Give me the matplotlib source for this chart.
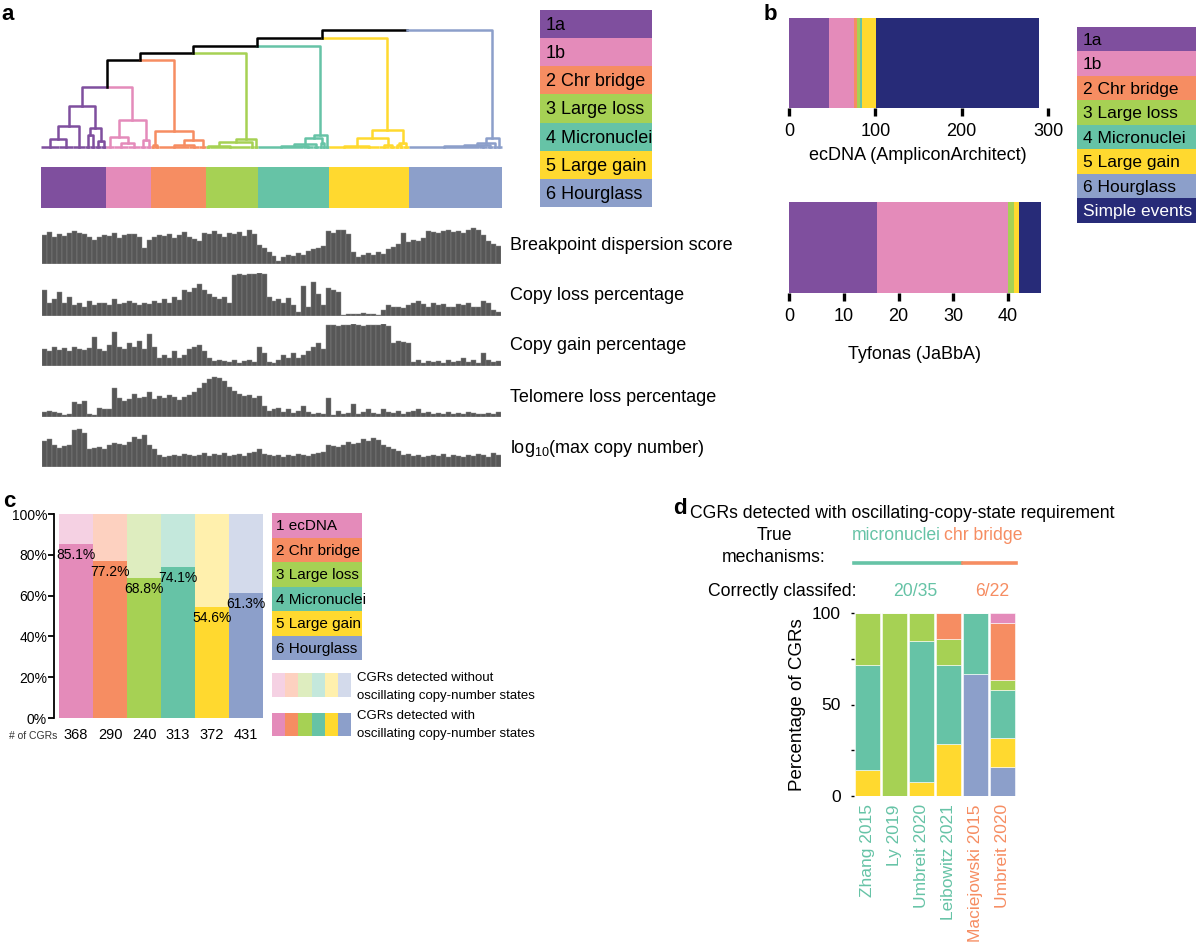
import numpy as np
import matplotlib
matplotlib.use('Agg')
import matplotlib.pyplot as plt

plt.rcParams['font.family'] = ['Liberation Sans', 'DejaVu Sans']

# ---------------- colours ----------------
purple = '#7F4F9E'
pink = '#E48BBA'
orange = '#F68D62'
green = '#A6D154'
teal = '#66C3A6'
yellow = '#FFD92F'
blue = '#8C9FCA'
navy = '#272B78'
track_col = '#575757'

# ---------------- panel a data ----------------
cluster_names = ['1a', '1b', '2 Chr bridge', '3 Large loss', '4 Micronuclei', '5 Large gain', '6 Hourglass']
cluster_colors = [purple, pink, orange, green, teal, yellow, blue]
cluster_sizes = [65, 45, 55, 52, 71, 80, 93]

# sub-trees of each cluster: (height, left, right); integers are groups of samples
tree_1a = (41, (21, (8, 18, 14), 12), (19, (12, 5, 5), (6, 6, 5)))
tree_1b = (27, (10, 8, (4, 14, 12)), (7, 6, 5))
tree_2 = (16, (2, 3, 5), (7, (1.5, 30, 10), 7))
tree_3 = (7.5, (4.5, (1, 4, 40), 4), 4)
tree_4 = (12, (9, (3, (1, 45, 10), 6), (4, 3, 3)), 4)
tree_5 = (17, (9, (1, 30, 20), (2, 10, 6)), (4, (1.5, 4, 4), 6))
tree_6 = (9, (4, (1.5, (0.5, 70, 8), 6), 3), 6)
cluster_trees = [tree_1a, tree_1b, tree_2, tree_3, tree_4, tree_5, tree_6]
# heights where clusters join, left to right
join_heights = [60, 87, 94, 101, 109, 117]

track_names = ['Breakpoint dispersion score', 'Copy loss percentage', 'Copy gain percentage',
               'Telomere loss percentage', r'log$_{\mathregular{10}}$(max copy number)']
bp_dispersion = [75, 82, 70, 78, 72, 80, 85, 80, 78, 70, 62, 68, 75, 72, 80, 66, 74, 78,
                 76, 68, 40, 62, 70, 74, 72, 78, 66, 74, 82, 70, 64, 58, 80, 76, 84, 78,
                 70, 80, 76, 82, 72, 86, 76, 48, 40, 30, 20, 8, 18, 22, 20, 28, 22, 34,
                 38, 42, 46, 84, 80, 86, 88, 76, 30, 18, 22, 28, 24, 30, 26, 38, 44, 50,
                 80, 56, 62, 60, 66, 84, 82, 80, 84, 86, 82, 84, 80, 88, 92, 86, 74, 58,
                 50, 46]
copy_loss = [60, 30, 40, 55, 30, 45, 25, 30, 20, 35, 25, 30, 30, 25, 40, 28, 30, 35,
             30, 25, 30, 28, 35, 30, 40, 30, 45, 38, 60, 55, 65, 75, 60, 50, 45, 40,
             45, 30, 95, 98, 96, 98, 97, 99, 98, 45, 35, 40, 30, 42, 25, 10, 70, 20,
             80, 50, 25, 65, 60, 55, 3, 4, 5, 4, 6, 5, 4, 3, 15, 25, 20, 22,
             18, 25, 30, 35, 28, 20, 30, 25, 28, 22, 20, 28, 25, 30, 22, 20, 35, 30,
             15, 10]
copy_gain = [40, 35, 45, 38, 42, 35, 45, 40, 38, 42, 70, 40, 35, 50, 80, 45, 40, 55,
             45, 60, 40, 75, 45, 20, 25, 20, 35, 20, 25, 40, 45, 50, 35, 18, 12, 15,
             12, 10, 15, 8, 12, 15, 10, 45, 30, 10, 8, 15, 25, 20, 30, 18, 25, 35,
             45, 55, 40, 97, 98, 96, 98, 97, 99, 98, 96, 98, 97, 98, 99, 95, 55, 60,
             58, 55, 10, 15, 8, 12, 10, 12, 8, 15, 10, 12, 20, 10, 15, 8, 30, 15,
             10, 12]
telomere_loss = [12, 14, 12, 10, 4, 6, 35, 32, 38, 8, 4, 22, 20, 18, 70, 45, 38, 42,
                 55, 45, 48, 60, 42, 50, 45, 52, 48, 40, 48, 52, 60, 70, 80, 90, 95, 92,
                 85, 72, 62, 55, 50, 52, 45, 50, 25, 15, 18, 22, 12, 20, 10, 15, 25, 12,
                 8, 10, 6, 45, 4, 15, 8, 10, 30, 6, 12, 20, 10, 8, 20, 12, 10, 15,
                 8, 12, 15, 18, 10, 12, 8, 10, 6, 12, 8, 10, 6, 12, 10, 8, 6, 10,
                 8, 12]
log_max_cn = [65, 70, 55, 48, 52, 55, 92, 95, 85, 45, 48, 50, 45, 55, 60, 58, 55, 62,
              75, 70, 80, 55, 45, 30, 25, 28, 30, 28, 32, 30, 28, 30, 35, 28, 32, 30,
              35, 28, 30, 32, 28, 35, 38, 45, 32, 30, 28, 30, 26, 30, 28, 32, 30, 28,
              32, 35, 38, 55, 52, 50, 55, 62, 58, 60, 70, 65, 72, 68, 55, 50, 45, 40,
              30, 32, 28, 30, 26, 28, 30, 28, 32, 26, 30, 28, 26, 30, 28, 32, 30, 26,
              35, 30]
tracks = [bp_dispersion, copy_loss, copy_gain, telomere_loss, log_max_cn]

# ---------------- panel b data ----------------
b_names = ['1a', '1b', '2 Chr bridge', '3 Large loss', '4 Micronuclei', '5 Large gain', '6 Hourglass', 'Simple events']
b_colors = [purple, pink, orange, green, teal, yellow, blue, navy]
ecdna_counts = [46, 29, 4, 3, 2, 17, 0, 189]
tyfonas_counts = [16, 24, 0, 1, 0, 1, 0, 4]

# ---------------- panel c data ----------------
c_names = ['1 ecDNA', '2 Chr bridge', '3 Large loss', '4 Micronuclei', '5 Large gain', '6 Hourglass']
c_colors = [pink, orange, green, teal, yellow, blue]
c_light = ['#F5D1E3', '#FDD1C0', '#DEEDBF', '#C4E8DC', '#FFF0AD', '#D3DAEB']
pct_oscillating = [85.1, 77.2, 68.8, 74.1, 54.6, 61.3]
n_cgrs = [368, 290, 240, 313, 372, 431]

# ---------------- panel d data ----------------
studies = ['Zhang 2015', 'Ly 2019', 'Umbreit 2020', 'Leibowitz 2021', 'Maciejowski 2015', 'Umbreit 2020']
study_mech = ['mn', 'mn', 'mn', 'mn', 'cb', 'cb']
d_classes = ['6 Hourglass', '5 Large gain', '4 Micronuclei', '3 Large loss', '2 Chr bridge', '1 ecDNA']
d_colors = [blue, yellow, teal, green, orange, pink]
d_pct = {
    '6 Hourglass':   [0, 0, 0, 0, 66.7, 15.8],
    '5 Large gain':  [14.3, 0, 7.7, 28.6, 0, 15.8],
    '4 Micronuclei': [57.1, 0, 76.9, 42.9, 33.3, 26.3],
    '3 Large loss':  [28.6, 100, 15.4, 14.3, 0, 5.3],
    '2 Chr bridge':  [0, 0, 0, 14.3, 0, 31.6],
    '1 ecDNA':       [0, 0, 0, 0, 0, 5.3],
}

# ---------------- figure helpers ----------------
W, H = 1200, 946
fig = plt.figure(figsize=(W / 100, H / 100), dpi=100)


def px_axes(x0, y0, x1, y1):
    return fig.add_axes([x0 / W, 1 - y1 / H, (x1 - x0) / W, (y1 - y0) / H])


def ftext(x, y, s, **kw):
    kw.setdefault('va', 'center')
    return fig.text(x / W, 1 - y / H, s, **kw)


def clean(ax):
    for sp in ax.spines.values():
        sp.set_visible(False)
    ax.set_xticks([])
    ax.set_yticks([])


def legend_box(ax, names, colors, fs, text_colors=None):
    n = len(names)
    ax.barh(np.arange(n) + 0.5, 1, height=1, color=colors, linewidth=0)
    ax.set_xlim(0, 1)
    ax.set_ylim(n, 0)
    for i, nm in enumerate(names):
        tc = 'black' if text_colors is None else text_colors[i]
        ax.text(0.05, i + 0.55, nm, va='center', ha='left', fontsize=fs, color=tc)
    clean(ax)


# ---------------- panel a: dendrogram ----------------
def draw_tree(ax, node, start, color):
    if not isinstance(node, tuple):
        ax.plot([start, start + node], [0, 0], color=color, lw=1.8, clip_on=False,
                solid_capstyle='butt')
        return start + node / 2, 0, start + node
    h, left, right = node
    lx, lh, mid = draw_tree(ax, left, start, color)
    rx, rh, end = draw_tree(ax, right, mid, color)
    ax.plot([lx, lx, rx, rx], [lh, h, h, rh], color=color, lw=1.8, clip_on=False)
    return (lx + rx) / 2, h, end


ax = px_axes(41, 30, 502, 147)
tops = []
start = 0
for tree, col, size in zip(cluster_trees, cluster_colors, cluster_sizes):
    x, h, _ = draw_tree(ax, tree, start, col)
    tops.append((x, h))
    start += size
cx, ch = tops[0]
ccol = cluster_colors[0]
for i in range(1, len(tops)):
    rx, rh = tops[i]
    hj = join_heights[i - 1]
    mx = (cx + rx) / 2
    ax.plot([cx, cx, mx], [ch, hj, hj], color=ccol, lw=1.8, clip_on=False)
    ax.plot([mx, rx, rx], [hj, hj, rh], color=cluster_colors[i], lw=1.8, clip_on=False)
    cx, ch, ccol = mx, hj, 'black'
ax.set_xlim(0, sum(cluster_sizes))
ax.set_ylim(0, 117)
clean(ax)

# cluster colour strip
ax = px_axes(41, 167, 502, 208)
lefts = np.concatenate([[0], np.cumsum(cluster_sizes)[:-1]])
ax.barh(0.5, cluster_sizes, left=lefts, height=1, color=cluster_colors, linewidth=0)
ax.set_xlim(0, sum(cluster_sizes))
ax.set_ylim(0, 1)
clean(ax)

# feature tracks
track_boxes = [(225, 264), (273, 316), (324, 366), (375, 417), (427, 467)]
for vals, (y0, y1), name in zip(tracks, track_boxes, track_names):
    ax = px_axes(42, y0, 501, y1)
    ax.bar(np.arange(len(vals)), vals, width=1.0, align='edge', color=track_col,
           edgecolor='#8a8a8a', linewidth=0.3)
    ax.axhline(0, color='#999999', lw=1.0)
    ax.set_xlim(0, len(vals))
    ax.set_ylim(0, 100)
    clean(ax)
    ftext(510, (y0 + y1) / 2 + 1, name, fontsize=13, ha='left')

# legend a
ax = px_axes(540, 10, 652, 207)
legend_box(ax, cluster_names, cluster_colors, 13)

# ---------------- panel b ----------------
for counts, box, xmax, ticks, label, lab_xy in [
        (ecdna_counts, (789, 18, 1048, 108), 300, [0, 100, 200, 300], 'ecDNA (AmpliconArchitect)', (918, 155)),
        (tyfonas_counts, (789, 202, 1041, 293), 46, [0, 10, 20, 30, 40], 'Tyfonas (JaBbA)', (914, 354))]:
    ax = px_axes(*box)
    left = np.concatenate([[0], np.cumsum(counts)[:-1]])
    ax.barh(0.5, counts, left=left, height=1, color=b_colors, linewidth=0)
    ax.set_xlim(0, xmax)
    ax.set_ylim(0, 1)
    for sp in ax.spines.values():
        sp.set_visible(False)
    ax.set_yticks([])
    ax.set_xticks(ticks)
    ax.tick_params(axis='x', length=6, width=2.4, labelsize=13, pad=5)
    ftext(lab_xy[0], lab_xy[1], label, fontsize=13, ha='center')

ax = px_axes(1077, 27, 1196, 223)
legend_box(ax, b_names, b_colors, 12.5, text_colors=['black'] * 7 + ['white'])

# ---------------- panel c ----------------
ax = px_axes(54, 514, 263, 718)
xc = np.arange(len(pct_oscillating)) + 0.5
ax.bar(xc, 100, width=1, color=c_light, linewidth=0)
ax.bar(xc, pct_oscillating, width=1, color=c_colors, linewidth=0)
for x, p in zip(xc, pct_oscillating):
    ax.text(x, p - 2, f'{p}%', ha='center', va='top', fontsize=10)
for x, n in zip(xc, n_cgrs):
    ax.text(x, -0.083, str(n), transform=ax.get_xaxis_transform(), ha='center', va='center',
            fontsize=10.5)
ax.set_xlim(-0.15, len(pct_oscillating))
ax.set_ylim(0, 100)
for s in ['top', 'right', 'bottom']:
    ax.spines[s].set_visible(False)
ax.spines['left'].set_linewidth(1.3)
ax.set_xticks([])
ax.set_yticks(range(0, 101, 20))
ax.set_yticklabels([f'{v}%' for v in range(0, 101, 20)])
ax.tick_params(axis='y', length=4, width=1.3, labelsize=10, pad=1)
ftext(33, 736, '# of CGRs', fontsize=7.5, ha='center', color='#333333')

ax = px_axes(272, 513, 362, 660)
legend_box(ax, c_names, c_colors, 11)

ax = px_axes(272, 673, 351, 697)
ax.bar(np.arange(6) + 0.5, 1, width=1, color=c_light, linewidth=0)
ax.set_xlim(0, 6)
ax.set_ylim(0, 1)
clean(ax)
ax = px_axes(272, 713, 351, 736)
ax.bar(np.arange(6) + 0.5, 1, width=1, color=c_colors, linewidth=0)
ax.set_xlim(0, 6)
ax.set_ylim(0, 1)
clean(ax)
ftext(357, 678, 'CGRs detected without', fontsize=9.5)
ftext(357, 696, 'oscillating copy-number states', fontsize=9.5)
ftext(357, 716, 'CGRs detected with', fontsize=9.5)
ftext(357, 734, 'oscillating copy-number states', fontsize=9.5)

# ---------------- panel d ----------------
ax = px_axes(854, 613, 1016, 796)
xd = np.arange(len(studies)) + 0.5
bottom = np.zeros(len(studies))
for cls, col in zip(d_classes, d_colors):
    vals = np.array(d_pct[cls])
    ax.bar(xd, vals, bottom=bottom, width=0.92, color=col, edgecolor='white', linewidth=0.4)
    bottom += vals
ax.set_xlim(0, len(studies))
ax.set_ylim(0, 100)
for sp in ax.spines.values():
    sp.set_visible(False)
ax.set_yticks([0, 50, 100])
ax.set_yticks([25, 75], minor=True)
ax.tick_params(axis='y', which='both', length=2.5, width=1, labelsize=12.5, pad=7)
ax.set_xticks(xd)
ax.set_xticklabels(studies, rotation=90, fontsize=12.5)
ax.tick_params(axis='x', length=0, pad=6)
for lbl, m in zip(ax.get_xticklabels(), study_mech):
    lbl.set_color(teal if m == 'mn' else orange)
ftext(797, 705, 'Percentage of CGRs', fontsize=13.5, rotation=90, ha='center')

ftext(902, 513, 'CGRs detected with oscillating-copy-state requirement', fontsize=12.7, ha='center')
ftext(774, 536, 'True', fontsize=12.7, ha='center')
ftext(774, 558, 'mechanisms:', fontsize=12.7, ha='center')
ftext(852, 536, 'micronuclei', fontsize=12.7, ha='left', color=teal)
ftext(944, 536, 'chr bridge', fontsize=12.7, ha='left', color=orange)
fig.add_artist(plt.Line2D([854 / W, 961 / W], [1 - 563 / H, 1 - 563 / H], color=teal, lw=2.6))
fig.add_artist(plt.Line2D([963 / W, 1016 / W], [1 - 563 / H, 1 - 563 / H], color=orange, lw=2.6))
ftext(708, 592, 'Correctly classifed:', fontsize=12.7, ha='left')
ftext(915, 592, '20/35', fontsize=12.7, ha='center', color=teal)
ftext(992, 592, '6/22', fontsize=12.7, ha='center', color=orange)

# panel letters
for s, x, y in [('a', 8, 14), ('b', 770, 14), ('c', 9, 501), ('d', 680, 508)]:
    ftext(x, y, s, fontsize=16, fontweight='bold', ha='center')

fig.savefig('out.png', dpi=100)
